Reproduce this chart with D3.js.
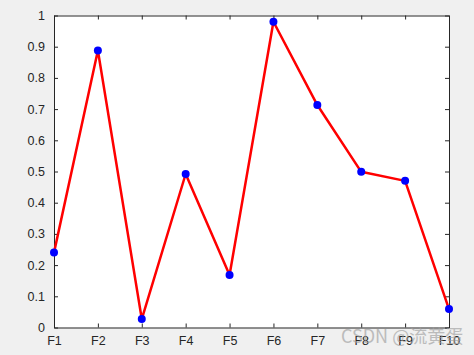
<!DOCTYPE html>
<html><head><meta charset="utf-8">
<script src="https://cdn.jsdelivr.net/npm/d3@7"></script>
<style>html,body{margin:0;padding:0;background:#f0f0f0;}svg{display:block;}</style>
</head><body>
<script>
const categories = ["F1","F2","F3","F4","F5","F6","F7","F8","F9","F10"];
const values = [0.24, 0.888, 0.027, 0.492, 0.168, 0.98, 0.713, 0.499, 0.470, 0.059];
const yTicks = [0,0.1,0.2,0.3,0.4,0.5,0.6,0.7,0.8,0.9,1];

const W=474,H=355;
const m={l:54,r:25,t:15.5,b:27.5};
const svg=d3.select("body").append("svg").attr("width",W).attr("height",H);
svg.append("rect").attr("width",W).attr("height",H).attr("fill","#f0f0f0");
const x=d3.scalePoint().domain(categories).range([m.l,W-m.r]);
const y=d3.scaleLinear().domain([0,1]).range([H-m.b,m.t]);
svg.append("rect").attr("x",m.l).attr("y",m.t).attr("width",W-m.r-m.l).attr("height",H-m.b-m.t).attr("fill","#fff");

const font="Helvetica, 'Liberation Sans', Arial, sans-serif";
const style=g=>{g.selectAll("path").attr("stroke","#262626");g.selectAll("line").attr("stroke","#262626");g.selectAll("text").attr("fill","#262626").style("font-family",font).style("font-size","12.5px");};

svg.append("g").attr("transform",`translate(0,${H-m.b})`)
 .call(d3.axisBottom(x).tickSizeInner(-4).tickSizeOuter(0).tickPadding(9)).call(style);
svg.append("g").attr("transform",`translate(0,${m.t})`)
 .call(d3.axisTop(x).tickSizeInner(-4).tickSizeOuter(0).tickFormat("")).call(style);
svg.append("g").attr("transform",`translate(${m.l},0)`)
 .call(d3.axisLeft(y).tickValues(yTicks).tickFormat(d=>d3.format("")(+d.toFixed(1))).tickSizeInner(-4).tickSizeOuter(0).tickPadding(9)).call(style);
svg.append("g").attr("transform",`translate(${W-m.r},0)`)
 .call(d3.axisRight(y).tickValues(yTicks).tickSizeInner(-4).tickSizeOuter(0).tickFormat("")).call(style);

const line=d3.line().x((d,i)=>x(categories[i])).y(d=>y(d));
svg.append("path").datum(values).attr("d",line).attr("fill","none").attr("stroke","#ff0000").attr("stroke-width",2.5).attr("stroke-linejoin","round");
svg.selectAll("circle.pt").data(values).enter().append("circle").attr("class","pt")
 .attr("cx",(d,i)=>x(categories[i])).attr("cy",d=>y(d)).attr("r",4).attr("fill","#0000ff");

svg.append("text").attr("x",341).attr("y",343).text("CSDN @流黄蛋")
 .attr("fill","#a0a0a0").attr("opacity",0.65).style("font-family","'Noto Sans CJK SC', sans-serif").style("font-size","18px");
</script>
</body></html>
